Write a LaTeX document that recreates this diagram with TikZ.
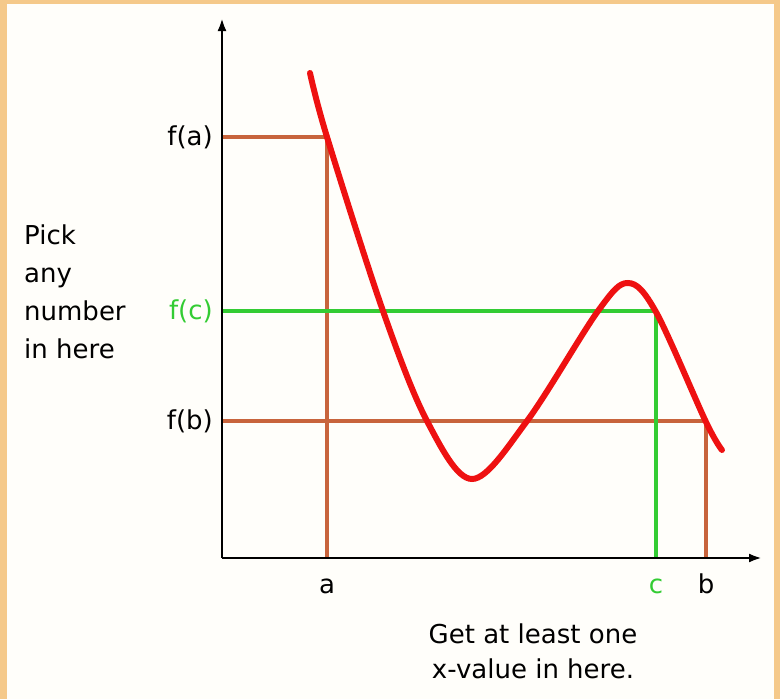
\documentclass[tikz,border=0pt]{standalone}
\usepackage{fontspec}
\setmainfont{DejaVu Sans}
\usetikzlibrary{arrows.meta}
\definecolor{bord}{HTML}{F5C98A}
\definecolor{bg}{HTML}{FFFEFA}
\definecolor{brn}{HTML}{C8643C}
\definecolor{grn}{HTML}{33CC33}
\definecolor{crv}{HTML}{EE1111}
\tikzset{
  axis/.style={line width=2.8pt, -{Latex[length=13pt,width=9pt]}},
  brline/.style={brn, line width=3.5pt},
  grline/.style={grn, line width=3.5pt},
  lbl/.style={font=\fontsize{26}{38}\selectfont, inner sep=0pt},
}
\begin{document}
\begin{tikzpicture}[x=1pt,y=-1pt]
\useasboundingbox (0,0) rectangle (780,699);
\fill[bord] (0,0) rectangle (780,699);
\fill[bg] (7,4) rectangle (774,699);
% coordinates
\coordinate (O) at (222,558);
\coordinate (ytip) at (222,18);
\coordinate (xtip) at (762,558);
\coordinate (fa) at (222,137);
\coordinate (fc) at (222,311);
\coordinate (fb) at (222,421);
\coordinate (A) at (327,137);
\coordinate (C) at (656,311);
\coordinate (B) at (706,421);
\coordinate (xa) at (327,558);
\coordinate (xc) at (656,558);
\coordinate (xb) at (706,558);
% guide lines
\draw[brline] (fa) -- (A) -- (xa);
\draw[brline] (fb) -- (B) -- (xb);
\draw[grline] (fc) -- (C) -- (xc);
% axes
\draw[axis] (O) -- (ytip);
\draw[axis] (O) -- (xtip);
% curve
\draw[crv, line width=6pt, line cap=round] plot[smooth, tension=0.55] coordinates {
 (310,73) (327,137) (383,311) (427,421) (472,479) (527,421) (598,311) (628,283) (656,312) (706,422) (722,450)};
% labels
\node[lbl, anchor=east] (lfa) at (213,137) {f(a)};
\node[lbl, anchor=east, text=grn] (lfc) at (213,311) {f(c)};
\node[lbl, anchor=east] (lfb) at (213,421) {f(b)};
\node[lbl, anchor=west, align=left] (pick) at (24,292) {Pick\\any\\number\\in here};
\node[lbl, anchor=base] (la) at (327,593) {a};
\node[lbl, anchor=base, text=grn] (lc) at (656,593) {c};
\node[lbl, anchor=base] (lb) at (706,593) {b};
\node[lbl, align=center, font=\fontsize{26}{35}\selectfont] (get) at (533,651) {Get at least one\\x-value in here.};
\end{tikzpicture}
\end{document}
